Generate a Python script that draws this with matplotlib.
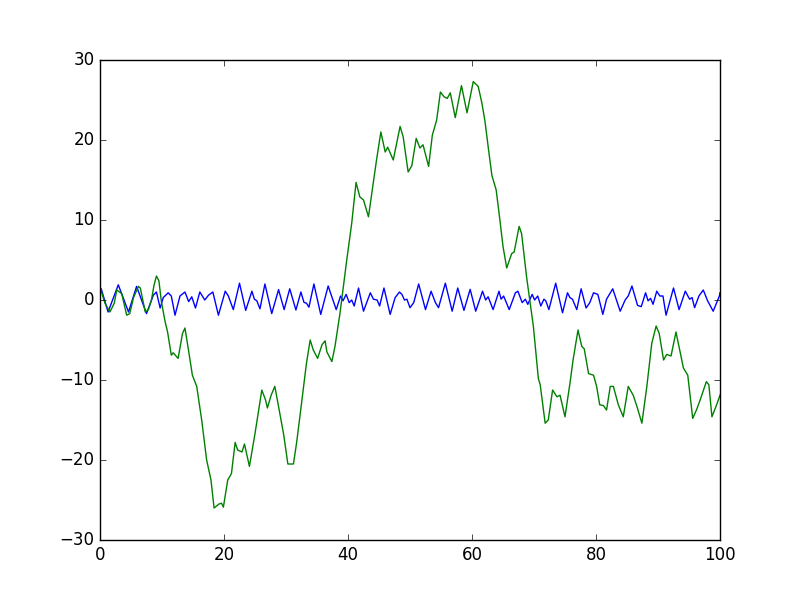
import matplotlib
matplotlib.use("Agg")
import matplotlib.pyplot as plt

plt.style.use("classic")

# green series (x, y)
green_x = [0.0, 0.8, 1.6, 2.3, 2.7, 3.5, 4.3, 4.8, 5.4, 6.2, 6.5, 7.3, 7.8, 8.3, 8.7,
           9.1, 9.5, 9.9, 10.5, 10.9, 11.5, 11.8, 12.6, 13.3, 13.7, 14.2, 14.9, 15.6,
           16.4, 17.2, 17.9, 18.4, 19.2, 19.6, 19.9, 20.6, 21.2, 21.8, 22.2, 22.9,
           23.3, 24.1, 25.0, 25.5, 26.1, 26.7, 27.0, 27.6, 28.2, 28.6, 29.6, 30.3,
           31.2, 31.7, 32.3, 32.8, 33.3, 33.9, 34.4, 35.1, 35.8, 36.3, 36.6, 37.4,
           37.9, 38.7, 39.8, 40.6, 41.3, 41.9, 42.5, 43.3, 44.0, 44.6, 45.3, 46.0,
           46.4, 47.3, 48.4, 48.9, 49.7, 50.3, 51.0, 51.6, 52.1, 53.0, 53.6, 54.3,
           54.9, 55.5, 56.0, 56.5, 57.3, 58.3, 59.2, 60.2, 61.0, 61.6, 62.1, 62.6,
           63.2, 63.9, 64.5, 65.0, 65.6, 66.4, 66.8, 67.6, 68.0, 68.8, 69.9, 70.7,
           71.0, 71.8, 72.3, 73.0, 73.7, 74.2, 75.0, 75.8, 76.3, 77.1, 77.7, 78.1,
           78.8, 79.6, 80.1, 80.6, 81.2, 81.7, 82.3, 82.8, 83.6, 84.4, 85.2, 86.0,
           86.6, 87.4, 88.2, 89.0, 89.7, 90.2, 90.9, 91.4, 92.1, 92.9, 93.5, 94.1,
           94.8, 95.6, 96.2, 96.8, 97.8, 98.2, 98.7, 99.5, 100.0]
green_y = [1.6, -0.4, -1.5, -0.4, 1.25, 0.8, -1.9, -1.7, 0.3, 1.7, 1.5, -1.5, -1.2, 0.0, 1.8,
           3.0, 2.4, -0.2, -2.7, -4.0, -6.9, -6.6, -7.3, -4.2, -3.5, -5.9, -9.4, -10.8,
           -15.0, -20.0, -22.5, -26.0, -25.5, -25.4, -25.9, -22.5, -21.7, -17.8, -18.75, -19.0,
           -18.0, -20.8, -16.7, -14.2, -11.25, -12.5, -13.5, -11.9, -10.8, -12.5, -16.7, -20.5,
           -20.5, -17.9, -14.2, -11.0, -7.9, -5.0, -6.25, -7.3, -5.6, -5.1, -6.5, -7.7,
           -5.8, -1.7, 5.0, 9.6, 14.7, 12.9, 12.5, 10.4, 14.2, 17.5, 21.0, 18.5,
           19.1, 17.5, 21.7, 20.4, 16.0, 16.8, 20.2, 19.0, 19.4, 16.7, 20.6, 22.5,
           26.0, 25.4, 25.2, 25.9, 22.8, 26.8, 23.4, 27.3, 26.7, 24.6, 22.3, 19.2,
           15.6, 13.75, 10.0, 6.7, 4.0, 5.8, 6.0, 9.2, 8.3, 2.9, -3.3, -9.8,
           -10.6, -15.4, -15.0, -11.25, -12.1, -11.9, -14.6, -10.4, -7.5, -3.75, -5.8, -6.1,
           -9.2, -9.4, -10.8, -13.1, -13.2, -13.75, -10.8, -10.8, -13.1, -14.6, -10.8, -11.9,
           -13.3, -15.4, -10.8, -5.4, -3.25, -4.2, -7.5, -6.8, -7.0, -4.0, -6.25, -8.5,
           -9.4, -14.8, -13.75, -12.5, -10.2, -10.6, -14.6, -13.0, -11.9]

# blue series (x, y)
blue_x = [0.0, 0.2, 1.3, 2.95, 4.6, 5.9, 7.5, 8.6, 9.1, 9.7, 10.2, 11.0, 11.5, 12.1,
          12.9, 13.7, 14.3, 14.8, 15.4, 16.1, 16.9, 17.5, 18.2, 19.1, 20.2, 20.7,
          21.5, 22.5, 23.5, 24.5, 24.9, 25.3, 25.8, 26.6, 27.7, 28.8, 29.7, 30.6,
          31.6, 32.4, 32.9, 33.3, 33.7, 34.5, 35.6, 36.8, 38.1, 38.8, 39.2, 39.7,
          40.2, 40.6, 41.0, 41.7, 42.5, 43.6, 44.1, 44.7, 45.1, 45.8, 46.8, 47.6,
          48.3, 48.7, 49.1, 49.5, 50.0, 50.6, 51.4, 52.5, 53.4, 54.1, 54.6, 55.7,
          56.8, 57.7, 58.7, 59.7, 60.6, 61.7, 62.2, 62.6, 63.4, 64.35, 64.7, 65.1,
          66.0, 67.0, 67.4, 68.1, 68.6, 69.0, 69.7, 70.1, 70.6, 71.1, 71.6, 71.9,
          72.4, 73.5, 74.6, 75.4, 75.8, 76.2, 76.9, 77.6, 78.4, 79.0, 79.6, 80.3,
          81.1, 81.7, 82.7, 83.9, 84.7, 85.2, 85.8, 86.7, 87.3, 88.0, 88.4, 88.8,
          89.2, 89.8, 90.3, 90.8, 91.3, 92.5, 93.4, 94.4, 95.1, 95.5, 95.9, 96.6,
          97.3, 98.0, 98.9, 99.9, 100.0]
blue_y = [1.0, 1.4, -1.5, 1.9, -1.5, 1.7, -1.7, 0.6, 1.0, -1.0, 0.3, 0.9, 0.5, -1.9,
          0.5, 1.0, -0.2, 0.4, -1.0, 1.0, 0.0, 0.6, 1.0, -1.9, 1.1, 0.5,
          -1.2, 2.1, -1.3, 1.1, 0.1, -0.1, -1.1, 2.0, -1.7, 1.3, -1.2, 1.4,
          -1.25, 1.0, -0.3, -0.4, -0.9, 2.0, -1.8, 1.75, -1.2, 0.5, -0.1, 0.7,
          -0.33, 0.0, -0.75, 1.5, -1.4, 0.9, 0.1, 0.0, -0.75, 1.5, -1.8, 0.3,
          1.0, 0.7, 0.0, 0.1, -0.96, -0.33, 2.0, -1.2, 1.1, -0.33, -0.96, 2.1,
          -1.4, 1.5, -1.3, 1.33, -1.4, 1.1, 0.0, 0.4, -1.2, 1.1, 0.1, 0.5,
          -1.2, 0.9, 1.1, -0.33, 0.1, -0.54, 0.7, 0.0, 0.5, -0.75, 0.1, -0.1,
          -1.2, 2.1, -1.6, 0.9, 0.3, 0.1, -1.2, 1.4, -1.0, -0.33, 0.9, 0.7,
          -1.8, 0.1, 1.4, -1.4, 0.0, 0.5, 1.75, -0.67, -0.83, 0.9, -0.1, 0.2,
          -0.54, 1.1, 0.5, 0.5, -1.9, 1.5, -1.2, 1.1, 0.1, 0.3, -0.96, 0.5,
          1.25, -0.1, -1.4, 0.5, 0.9]

fig = plt.figure(figsize=(8, 6), dpi=100)
ax = fig.add_subplot(111)
ax.plot(blue_x, blue_y, "b-", linewidth=1.0)
ax.plot(green_x, green_y, "g-", linewidth=1.0)
ax.set_xlim(0, 100)
ax.set_ylim(-30, 30)
ax.set_xticks([0, 20, 40, 60, 80, 100])
ax.set_yticks([-30, -20, -10, 0, 10, 20, 30])
fig.savefig("out.png", dpi=100)
